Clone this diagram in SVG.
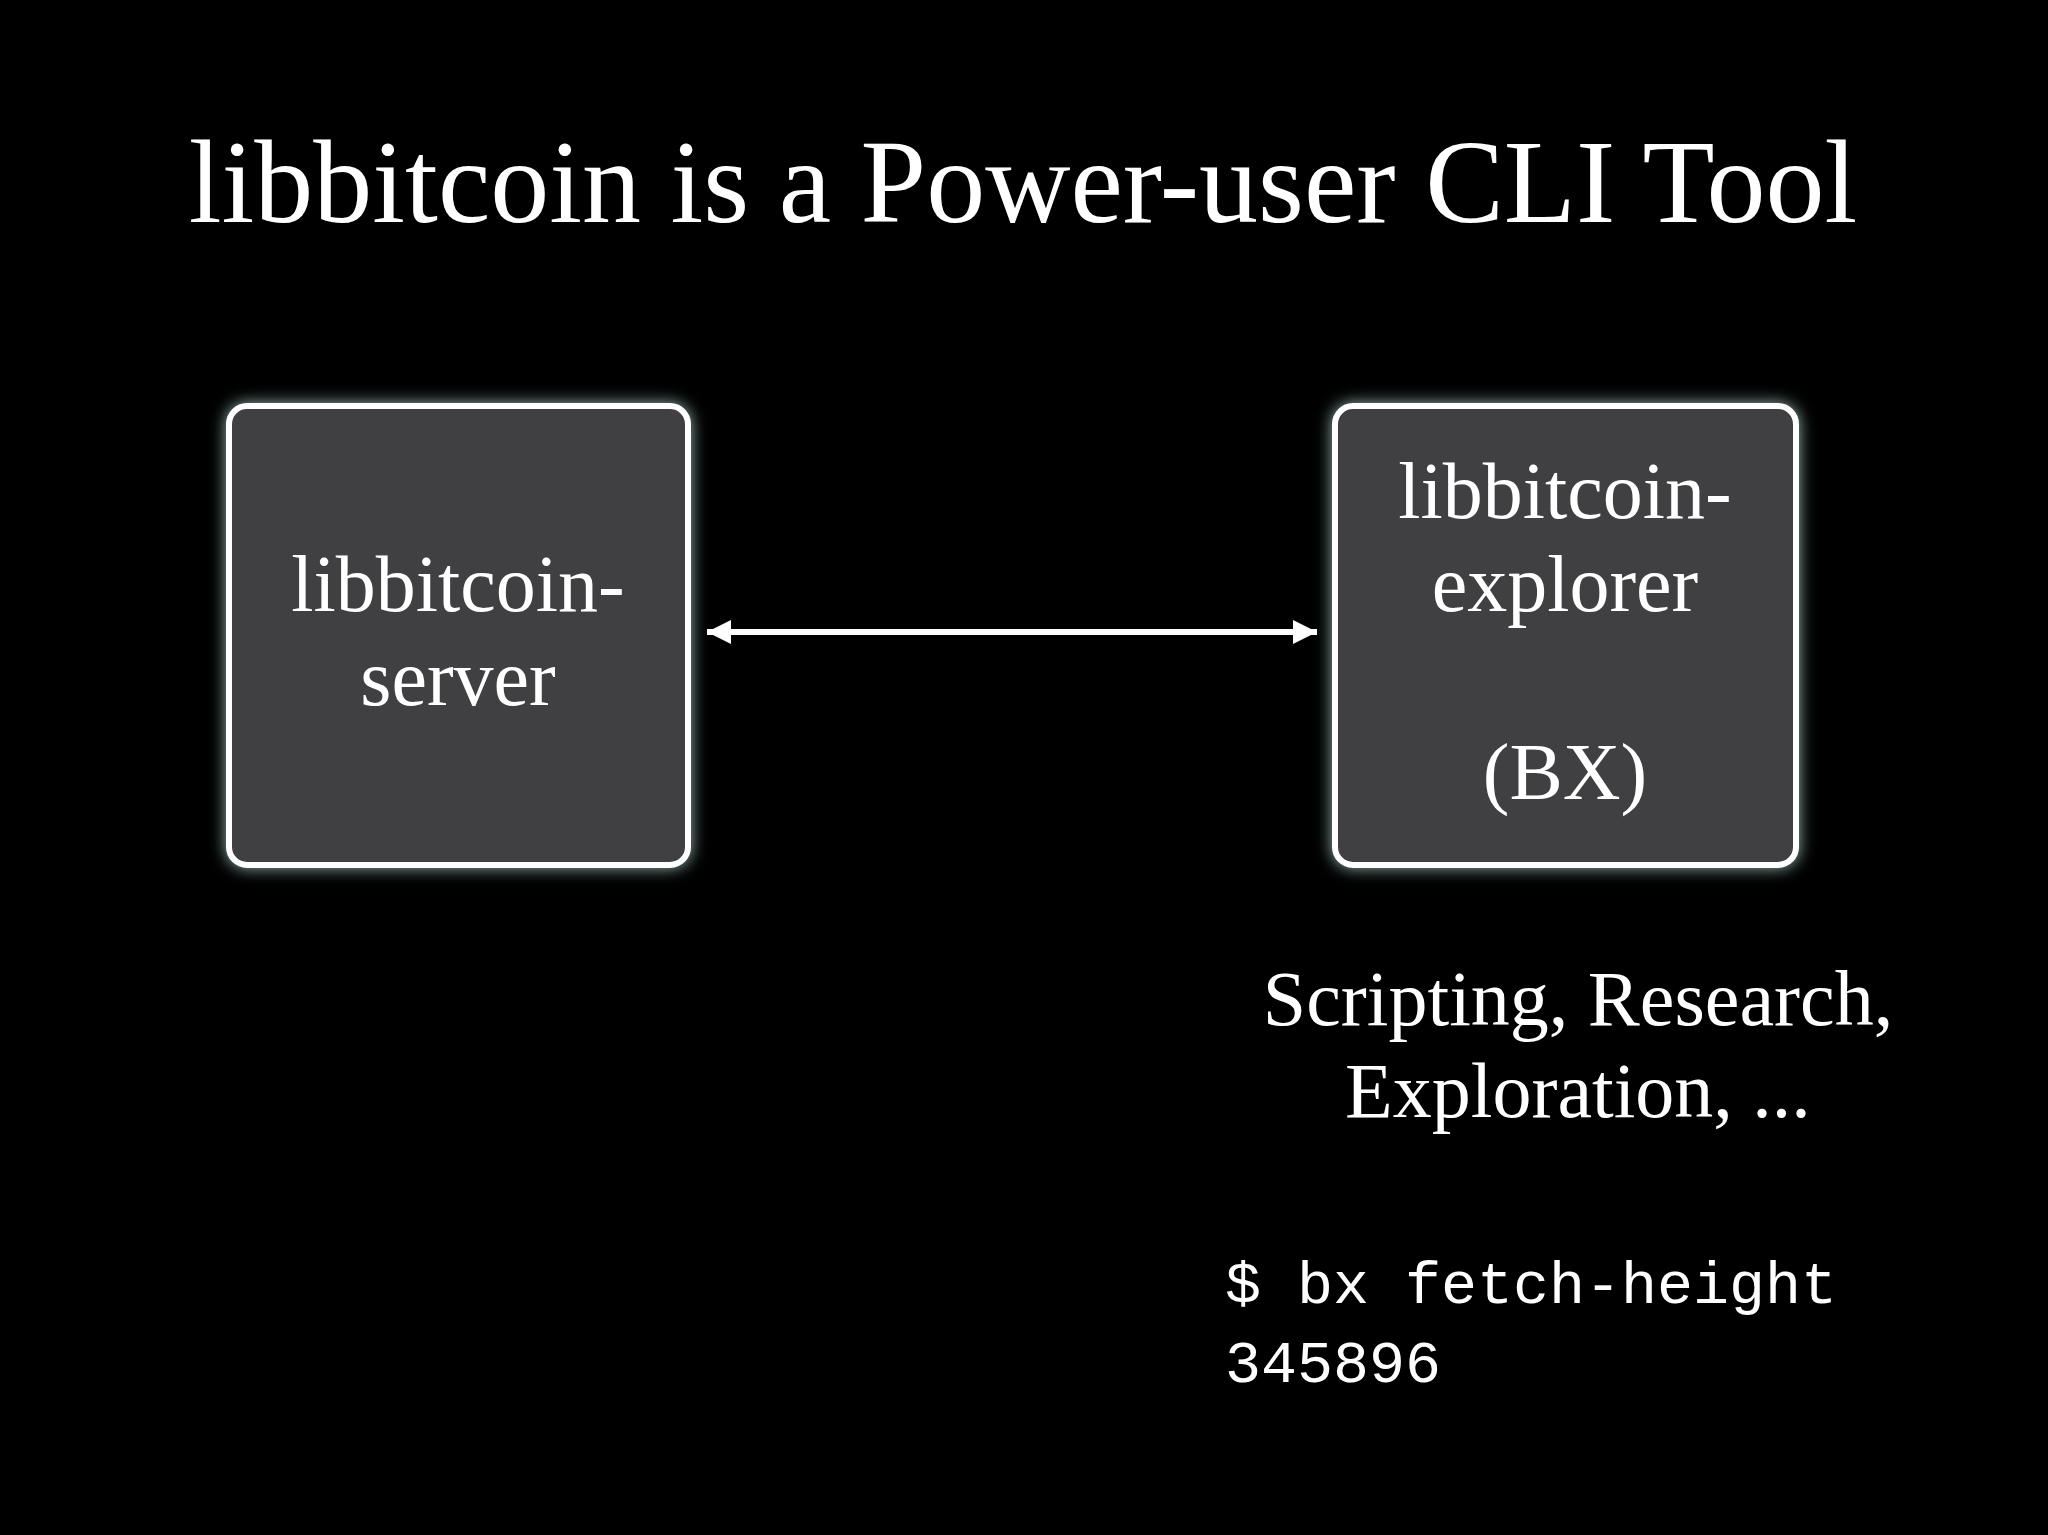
<svg xmlns="http://www.w3.org/2000/svg" width="2048" height="1535" viewBox="0 0 2048 1535">
<style>
.t{font-family:"Liberation Serif","DejaVu Serif",serif;fill:#fff;text-anchor:middle}
.box{fill:#414042;stroke:#fff;stroke-width:6;filter:url(#glow)}
.m{font-family:"Liberation Mono","DejaVu Sans Mono",monospace;fill:#fff;font-size:60px}
</style>
<defs>
<filter id="glow" x="-20%" y="-20%" width="140%" height="140%">
<feGaussianBlur in="SourceAlpha" stdDeviation="8" result="b"/>
<feFlood flood-color="#bfe6e0" flood-opacity="0.8"/>
<feComposite in2="b" operator="in" result="g"/>
<feMerge><feMergeNode in="g"/><feMergeNode in="SourceGraphic"/></feMerge>
</filter>
<marker id="ah" viewBox="0 0 10 10" refX="10" refY="5" markerWidth="6" markerHeight="4" markerUnits="strokeWidth" orient="auto-start-reverse">
<path d="M0,0 L10,5 L0,10 Z" fill="#fff"/>
</marker>
</defs>
<rect width="2048" height="1535" fill="#000"/>
<text id="title" class="t" x="1023" y="222" font-size="118">libbitcoin is a Power-user CLI Tool</text>
<g id="server">
<rect class="box" x="229" y="406" width="459" height="459" rx="18"/>
<text class="t" x="458" y="611" font-size="80">libbitcoin-</text>
<text class="t" x="458" y="705" font-size="80">server</text>
</g>
<g id="explorer">
<rect class="box" x="1335" y="406" width="461" height="459" rx="18"/>
<text class="t" x="1565" y="518" font-size="80">libbitcoin-</text>
<text class="t" x="1565" y="611" font-size="80">explorer</text>
<text class="t" x="1565" y="799" font-size="80">(BX)</text>
</g>
<g id="connectors">
<line x1="707" y1="632" x2="1317" y2="632" stroke="#fff" stroke-width="6" marker-start="url(#ah)" marker-end="url(#ah)"/>
</g>
<g id="notes">
<text class="t" x="1578" y="1025" font-size="78">Scripting, Research,</text>
<text class="t" x="1578" y="1117" font-size="78">Exploration, ...</text>
<text class="m" x="1225" y="1303">$ bx fetch-height</text>
<text class="m" x="1225" y="1382">345896</text>
</g>
</svg>
